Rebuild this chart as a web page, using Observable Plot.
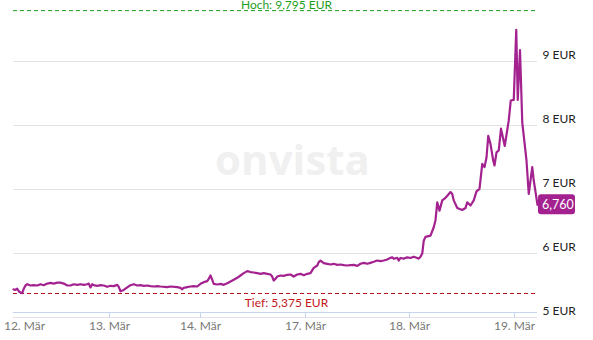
<!DOCTYPE html>
<html>
<head>
<meta charset="utf-8">
<script src="https://cdn.jsdelivr.net/npm/d3@7"></script>
<script src="https://cdn.jsdelivr.net/npm/@observablehq/plot@0.6"></script>
<style>
  html, body { margin: 0; padding: 0; background: #fff; }
  #chart { width: 593px; height: 340px; overflow: hidden; }
</style>
</head>
<body>
<div id="chart"></div>
<script>
// Trading-time position in minutes (≈840 trading minutes per day)
const times = [
  0,16,30,42,56,70,82,96,110,136,162,190,216,242,270,296,322,350,376,402,430,456,482,510,536,562,590,602,616,630,642,670,696,722,750,776,802,830,842,856,882,910,936,962,990,1016,1042,1070,1096,1122,1150,1176,1230,1256,1310,1336,1350,1362,1390,1416,1442,1470,
  1496,1522,1550,1562,1576,1590,1602,1630,1656,1682,1710,1736,1762,1790,1816,1842,1870,1896,1922,1950,1976,2002,2030,2056,2070,2082,2096,2110,2136,2162,2190,2216,2242,2270,2296,2322,2350,2376,2402,2430,2442,2456,2482,2510,2536,2562,2590,2616,2642,2670,2696,2722,2750,2776,2802,2830,2856,2882,2910,2936,2962,2990,3016,3030,3042,3070,3082,3096,3122,3150,3176,3202,3230,3242,3256,
  3270,3282,3296,3336,3362,3376,3390,3408,3430,3456,3474,3496,3510,3522,3550,3590,3616,3630,3656,3682,3704,3728,3750,3768,3784,3798,3816,3838,3848,3864,3882,3900,
  3930,3962,3978,4002,4022,4034,4052,4070,4104,4122,4150,4162,4192
];
const prices = [
  5.44,5.43,5.45,5.41,5.39,5.38,5.45,5.50,5.52,5.50,5.505,5.50,5.52,5.505,5.53,5.54,5.53,5.545,5.545,5.53,5.50,5.50,5.52,5.51,5.52,5.51,5.52,5.53,5.47,5.52,5.505,5.495,5.505,5.50,5.48,5.495,5.49,5.51,5.48,5.41,5.43,5.47,5.505,5.52,5.50,5.505,5.495,5.50,5.49,5.484,5.49,5.484,5.474,5.484,5.474,5.464,5.44,5.464,5.474,5.484,5.49,5.484,
  5.526,5.552,5.568,5.604,5.656,5.589,5.526,5.516,5.526,5.51,5.536,5.5625,5.589,5.62,5.656,5.693,5.724,5.71,5.703,5.693,5.682,5.693,5.682,5.672,5.64,5.578,5.604,5.64,5.656,5.651,5.667,5.672,5.64,5.672,5.682,5.66,5.682,5.693,5.776,5.8125,5.865,5.89,5.849,5.839,5.828,5.839,5.823,5.828,5.818,5.8125,5.818,5.823,5.807,5.839,5.854,5.839,5.854,5.87,5.89,5.88,5.89,5.906,5.932,5.94,5.917,5.932,5.89,5.93,5.92,5.94,5.93,5.95,5.93,5.92,5.95,
  6.00,6.20,6.26,6.28,6.41,6.52,6.80,6.67,6.83,6.87,6.91,6.96,6.93,6.83,6.71,6.68,6.71,6.80,6.75,6.83,6.97,7.01,7.40,7.35,7.50,7.84,7.71,7.45,7.375,7.58,7.61,7.95,
  7.68,8.08,8.39,8.40,9.495,8.40,9.18,8.05,7.45,6.93,7.35,7.14,6.76
];

const tickTimes = [88, 768, 1496, 2336, 3168, 4008];
const tickLabels = ["12. Mär", "13. Mär", "14. Mär", "17. Mär", "18. Mär", "19. Mär"];
const yTicks = [5, 6, 7, 8, 9];
const hoch = 9.795;
const tief = 5.375;
const watermark = "onvista";

const series = times.map((t, i) => ({t, p: prices[i]}));
const last = series[series.length - 1];
const de = v => v.toFixed(3).replace(".", ",");
const labelOf = new Map(tickTimes.map((t, i) => [t, tickLabels[i]]));

const purple = "#a3228f";

const chart = Plot.plot({
  width: 593,
  height: 340,
  marginLeft: 13,
  marginRight: 56,
  marginTop: 0,
  marginBottom: 23,
  x: {domain: [0, 4192], axis: null, label: null},
  y: {domain: [5, 9.953125], axis: null, label: null},
  style: {fontFamily: "Lato, sans-serif", fontSize: "12px", background: "white"},
  marks: [
    Plot.text([watermark], {frameAnchor: "middle", dx: 17, dy: 3, fontFamily: "Open Sans", fontWeight: 700, fontSize: 42, fill: "#f0f0f0"}),
    Plot.gridY(yTicks, {stroke: "#e3e3e3", strokeOpacity: 1}),
    Plot.axisY(yTicks, {anchor: "right", label: null, tickSize: 0, tickPadding: 5, dy: -6, fill: "#222", fontSize: 12, tickFormat: d => `${d} EUR`}),
    Plot.ruleY([5], {dy: -5, stroke: "#c6d5ea"}),
    Plot.axisX(tickTimes.slice(1), {label: null, tickSize: 6, dy: -5, stroke: "#c6d5ea", fill: "#777", fontSize: 12, tickFormat: d => labelOf.get(d)}),
    Plot.axisX(tickTimes.slice(0, 1), {label: null, tickSize: 0, tickPadding: 9, dy: -5, fill: "#777", fontSize: 12, tickFormat: d => labelOf.get(d)}),
    Plot.ruleY([hoch], {stroke: "#1e9e1e", strokeDasharray: "4,3", strokeWidth: 1}),
    Plot.text([hoch], {y: d => d, dx: 11, dy: -2, lineAnchor: "bottom", fill: "#1e9e1e", fontSize: 12, text: d => `Hoch: ${de(d)} EUR`}),
    Plot.ruleY([tief], {stroke: "#b5121b", strokeDasharray: "4,3", strokeWidth: 1}),
    Plot.text([tief], {y: d => d, dx: 11, dy: 10, fill: "#c4161c", fontSize: 12, text: d => `Tief: ${de(d)} EUR`}),
    Plot.line(series, {x: "t", y: "p", stroke: purple, strokeWidth: 2.2, strokeLinejoin: "round"}),
    Plot.rect([last], {x1: "t", x2: "t", y1: "p", y2: "p", insetLeft: 1, insetRight: -38, insetTop: -10, insetBottom: -10, rx: 3, fill: purple}),
    Plot.text([last], {x: "t", y: "p", text: d => de(d.p), textAnchor: "start", dx: 4.5, fill: "white", fontSize: 12.5})
  ]
});
document.getElementById("chart").appendChild(chart);
</script>
</body>
</html>
